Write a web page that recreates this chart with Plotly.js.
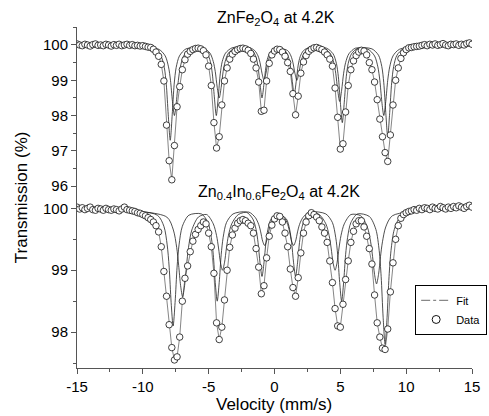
<!DOCTYPE html>
<html>
<head>
<meta charset="utf-8">
<script src="https://cdn.plot.ly/plotly-3.0.1.min.js"></script>
<style>html,body{margin:0;padding:0;background:#fff;}#chart{width:489px;height:416px;}</style>
</head>
<body>
<div id="chart"></div>
<script>
// Velocity channels (mm/s), shared by both spectra
const velocity = [-15.0,-14.8,-14.6,-14.4,-14.2,-14.0,-13.8,-13.6,-13.4,-13.2,
-13.0,-12.8,-12.6,-12.4,-12.2,-12.0,-11.8,-11.6,-11.4,-11.2,
-11.0,-10.8,-10.6,-10.4,-10.2,-10.0,-9.8,-9.6,-9.4,-9.2,
-9.0,-8.8,-8.6,-8.4,-8.2,-8.0,-7.8,-7.6,-7.4,-7.2,
-7.0,-6.8,-6.6,-6.4,-6.2,-6.0,-5.8,-5.6,-5.4,-5.2,
-5.0,-4.8,-4.6,-4.4,-4.2,-4.0,-3.8,-3.6,-3.4,-3.2,
-3.0,-2.8,-2.6,-2.4,-2.2,-2.0,-1.8,-1.6,-1.4,-1.2,
-1.0,-0.8,-0.6,-0.4,-0.2,0.0,0.2,0.4,0.6,0.8,
1.0,1.2,1.4,1.6,1.8,2.0,2.2,2.4,2.6,2.8,
3.0,3.2,3.4,3.6,3.8,4.0,4.2,4.4,4.6,4.8,
5.0,5.2,5.4,5.6,5.8,6.0,6.2,6.4,6.6,6.8,
7.0,7.2,7.4,7.6,7.8,8.0,8.2,8.4,8.6,8.8,
9.0,9.2,9.4,9.6,9.8,10.0,10.2,10.4,10.6,10.8,
11.0,11.2,11.4,11.6,11.8,12.0,12.2,12.4,12.6,12.8,
13.0,13.2,13.4,13.6,13.8,14.0,14.2,14.4,14.6,14.8,15.0];

// ZnFe2O4 at 4.2K : measured transmission (%)
const znFeData = [100.03,100.0,99.98,100.02,100.0,99.97,100.01,100.03,99.99,100.0,
99.98,100.02,100.0,99.97,100.01,99.99,100.02,99.98,100.0,100.02,
99.99,100.01,99.98,99.99,99.97,99.98,99.96,99.94,99.93,99.88,
99.8,99.68,99.45,98.98,97.73,96.72,96.18,97.15,98.25,98.82,
99.3,99.58,99.74,99.82,99.87,99.9,99.91,99.89,99.84,99.72,
99.4,98.85,97.8,97.08,97.4,98.3,98.98,99.35,99.6,99.74,
99.82,99.87,99.9,99.91,99.89,99.85,99.76,99.6,99.35,98.95,
98.12,98.15,98.98,99.48,99.72,99.83,99.88,99.87,99.8,99.68,
99.5,99.25,98.62,98.02,98.55,99.2,99.52,99.7,99.82,99.88,
99.92,99.93,99.9,99.87,99.8,99.72,99.6,99.4,98.78,97.95,
97.05,97.2,98.1,98.85,99.3,99.55,99.7,99.8,99.85,99.83,
99.72,99.5,99.3,98.95,98.45,97.9,97.4,96.95,96.7,97.45,
98.3,99.0,99.35,99.62,99.78,99.87,99.92,99.93,99.95,99.96,
99.97,99.99,100.01,99.98,100.02,100.0,100.03,99.99,100.01,100.04,
100.0,99.98,100.02,100.01,100.03,99.99,100.02,100.0,100.04,100.06,100.02];

// Zn0.4In0.6Fe2O4 at 4.2K : measured transmission (%)
const znInData = [100.02,99.99,100.01,99.98,100.0,100.02,99.98,99.97,100.0,99.99,
99.97,100.0,99.98,99.97,99.99,99.98,99.96,99.99,100.02,99.98,
99.97,99.96,99.95,99.93,99.92,99.9,99.88,99.85,99.82,99.78,
99.72,99.62,99.38,98.98,98.58,98.12,97.75,97.55,97.6,97.92,
98.5,98.87,99.07,99.3,99.47,99.58,99.66,99.72,99.78,99.75,
99.6,99.38,98.95,98.15,97.88,98.08,98.52,99.0,99.37,99.57,
99.68,99.76,99.8,99.82,99.8,99.76,99.72,99.6,99.35,99.05,
98.62,98.75,99.2,99.55,99.73,99.83,99.88,99.87,99.78,99.6,
99.38,99.02,98.72,98.58,98.88,99.28,99.6,99.78,99.88,99.93,
99.9,99.86,99.8,99.7,99.6,99.45,99.15,98.8,98.38,98.1,
98.08,98.45,98.85,99.15,99.45,99.63,99.75,99.8,99.8,99.7,
99.55,99.35,99.1,98.6,98.15,97.92,97.74,97.72,98.05,98.65,
99.12,99.5,99.72,99.84,99.9,99.93,99.95,99.96,99.98,99.97,
100.0,99.98,100.01,100.0,99.98,100.02,100.0,99.99,100.03,100.01,
99.99,100.02,100.0,100.03,100.01,100.04,100.02,100.0,100.03,100.05,100.02];

// Fit sub-spectra, ZnFe2O4
const znFeFitAVel = [-15,-12,-9.12,-8.62,-8.37,-8.22,-8.07,-7.92,-7.77,-7.62,-7.47,-7.22,-6.72,
-5.62,-5.12,-4.87,-4.72,-4.57,-4.42,-4.27,-4.12,-3.97,-3.72,-3.22,
-2.15,-1.65,-1.4,-1.25,-1.1,-0.95,-0.8,-0.65,-0.5,-0.25,0.28,
0.8,1.05,1.2,1.35,1.5,1.65,1.8,1.95,2.2,2.7,
3.95,4.45,4.7,4.85,5.0,5.15,5.3,5.45,5.6,5.85,6.35,
7.4,7.9,8.15,8.3,8.45,8.6,8.75,8.9,9.05,9.3,9.8,12,15];
const znFeFitA = [100,99.98,99.89,99.69,99.36,98.89,98.02,97.3,98.02,98.89,99.36,99.69,99.89,
99.92,99.77,99.53,99.18,98.53,98.0,98.53,99.18,99.53,99.77,99.92,
99.94,99.83,99.65,99.38,98.9,98.5,98.9,99.38,99.65,99.83,99.92,
99.84,99.67,99.43,98.97,98.6,98.97,99.43,99.67,99.84,99.94,
99.91,99.75,99.48,99.1,98.38,97.8,98.38,99.1,99.48,99.75,99.91,
99.89,99.71,99.39,98.93,98.09,97.4,98.09,98.93,99.39,99.71,99.89,99.98,100];
const znFeFitBVel = [-15,-12,-8.8,-8.3,-8.05,-7.9,-7.75,-7.6,-7.45,-7.3,-7.15,-6.9,-6.4,
-5.4,-4.9,-4.65,-4.5,-4.35,-4.2,-4.05,-3.9,-3.75,-3.5,-3.0,
-2.0,-1.5,-1.25,-1.1,-0.95,-0.8,-0.65,-0.5,-0.35,-0.1,0.45,
1.0,1.25,1.4,1.55,1.7,1.85,2.0,2.15,2.4,2.9,
3.75,4.25,4.5,4.65,4.8,4.95,5.1,5.25,5.4,5.65,6.15,
7.1,7.6,7.85,8.0,8.15,8.3,8.45,8.6,8.75,9.0,9.5,12,15];
const znFeFitB = [100,99.98,99.88,99.69,99.38,99.0,98.4,98.0,98.4,99.0,99.38,99.69,99.88,
99.91,99.77,99.53,99.25,98.8,98.5,98.8,99.25,99.53,99.77,99.91,
99.94,99.84,99.69,99.5,99.2,99.0,99.2,99.5,99.69,99.84,99.9,
99.84,99.69,99.5,99.2,99.0,99.2,99.5,99.69,99.84,99.94,
99.91,99.75,99.5,99.2,98.72,98.4,98.72,99.2,99.5,99.75,99.91,
99.88,99.69,99.38,99.0,98.4,98.0,98.4,99.0,99.38,99.69,99.88,99.98,100];

// Fit sub-spectra, Zn0.4In0.6Fe2O4
const znInFitAVel = [-15,-12,-8.9,-8.4,-8.15,-8.0,-7.85,-7.7,-7.55,-7.4,-7.25,-7.0,-6.5,
-5.55,-5.05,-4.8,-4.65,-4.5,-4.35,-4.2,-4.05,-3.9,-3.65,-3.15,
-2.15,-1.65,-1.4,-1.25,-1.1,-0.95,-0.8,-0.65,-0.5,-0.25,0.32,
0.9,1.15,1.3,1.45,1.6,1.75,1.9,2.05,2.3,2.8,
3.9,4.4,4.65,4.8,4.95,5.1,5.25,5.4,5.55,5.8,6.3,
7.2,7.7,7.95,8.1,8.25,8.4,8.55,8.7,8.85,9.1,9.6,12,15];
const znInFitA = [100,99.98,99.89,99.71,99.41,99.05,98.48,98.1,98.48,99.05,99.41,99.71,99.89,
99.91,99.77,99.53,99.25,98.8,98.5,98.8,99.25,99.53,99.77,99.91,
99.94,99.83,99.66,99.45,99.12,98.9,99.12,99.45,99.66,99.83,99.9,
99.83,99.66,99.45,99.12,98.9,99.12,99.45,99.66,99.83,99.94,
99.91,99.77,99.53,99.25,98.8,98.5,98.8,99.25,99.53,99.77,99.91,
99.87,99.66,99.32,98.9,98.24,97.8,98.24,98.9,99.32,99.66,99.87,99.98,100];
const znInFitBVel = [-15,-12,-8.18,-7.68,-7.43,-7.28,-7.13,-6.98,-6.83,-6.68,-6.53,-6.28,-5.78,
-5.15,-4.65,-4.4,-4.25,-4.1,-3.95,-3.8,-3.65,-3.5,-3.25,-2.75,
-1.95,-1.45,-1.2,-1.05,-0.9,-0.75,-0.6,-0.45,-0.3,-0.05,0.35,
0.75,1.0,1.15,1.3,1.45,1.6,1.75,1.9,2.15,2.65,
3.4,3.9,4.15,4.3,4.45,4.6,4.75,4.9,5.05,5.3,5.8,
6.55,7.05,7.3,7.45,7.6,7.75,7.9,8.05,8.2,8.45,8.95,12,15];
const znInFitB = [100,99.98,99.86,99.65,99.37,99.08,98.75,98.57,98.75,99.08,99.37,99.65,99.86,
99.9,99.75,99.56,99.36,99.12,99.0,99.12,99.36,99.56,99.75,99.9,
99.94,99.85,99.74,99.62,99.47,99.4,99.47,99.62,99.74,99.85,99.9,
99.85,99.74,99.62,99.47,99.4,99.47,99.62,99.74,99.85,99.94,
99.9,99.75,99.56,99.36,99.12,99.0,99.12,99.36,99.56,99.75,99.9,
99.88,99.7,99.46,99.22,98.93,98.78,98.93,99.22,99.46,99.7,99.88,99.98,100];

const topTicks = [96, 97, 98, 99, 100];
const bottomTicks = [98, 99, 100];
const xTicks = [-15, -10, -5, 0, 5, 10, 15];

const FONT = 'Liberation Sans, Arial, Helvetica, sans-serif';
const AXC = '#555';

function fitTrace(x, y, yaxis) {
  return {x: x, y: y, xaxis: 'x', yaxis: yaxis, type: 'scatter', mode: 'lines',
    line: {color: '#222', width: 0.8, shape: 'spline', smoothing: 0.8},
    showlegend: false, hoverinfo: 'skip'};
}
function dataTrace(y, yaxis) {
  return {x: velocity, y: y, xaxis: 'x', yaxis: yaxis, type: 'scatter', mode: 'lines+markers',
    line: {color: '#333', width: 0.6},
    marker: {symbol: 'circle', size: 6.5, color: '#fff', line: {color: '#111', width: 0.8}},
    showlegend: false};
}

const traces = [
  fitTrace(znFeFitAVel, znFeFitA, 'y2'),
  fitTrace(znFeFitBVel, znFeFitB, 'y2'),
  dataTrace(znFeData, 'y2'),
  fitTrace(znInFitAVel, znInFitA, 'y'),
  fitTrace(znInFitBVel, znInFitB, 'y'),
  dataTrace(znInData, 'y'),
  {x: [null], y: [null], xaxis: 'x', yaxis: 'y', type: 'scatter', mode: 'lines', name: 'Fit',
   line: {color: '#888', width: 1.2, dash: 'dashdot'}, showlegend: true},
  {x: [null], y: [null], xaxis: 'x', yaxis: 'y', type: 'scatter', mode: 'markers', name: 'Data',
   marker: {symbol: 'circle', size: 8, color: '#fff', line: {color: '#111', width: 1}}, showlegend: true}
];

const split = 0.5044;
const yCommon = {
  showline: true, linecolor: AXC, linewidth: 1, ticks: 'outside', ticklen: 5, tickcolor: AXC,
  showgrid: false, zeroline: false, anchor: 'x',
  tickfont: {family: FONT, size: 15, color: '#000'},
  minor: {dtick: 0.5, ticks: 'outside', ticklen: 3, tickcolor: AXC, showgrid: false}
};

const layout = {
  width: 489, height: 416,
  margin: {l: 77, r: 17, t: 27, b: 48, autoexpand: false},
  paper_bgcolor: '#fff', plot_bgcolor: '#fff',
  font: {family: FONT, color: '#000'},
  xaxis: {
    domain: [0, 1], range: [-15, 15], anchor: 'y',
    showline: true, linecolor: AXC, linewidth: 1, ticks: 'outside', ticklen: 5, tickcolor: AXC,
    tickvals: xTicks, ticktext: xTicks.map(String),
    tickfont: {family: FONT, size: 15, color: '#000'},
    minor: {dtick: 2.5, tick0: 0, ticks: 'outside', ticklen: 3, tickcolor: AXC, showgrid: false},
    showgrid: false, zeroline: false
  },
  yaxis: Object.assign({}, yCommon, {
    domain: [0, split], range: [97.42, 100.2],
    tickvals: bottomTicks, ticktext: bottomTicks.map(String)
  }),
  yaxis2: Object.assign({}, yCommon, {
    domain: [split, 1], range: [95.72, 100.51],
    tickvals: topTicks, ticktext: topTicks.map(String)
  }),
  showlegend: true,
  legend: {
    xref: 'container', yref: 'container',
    x: 0.849, y: 0.315, xanchor: 'left', yanchor: 'top',
    bgcolor: '#fff', bordercolor: '#000', borderwidth: 1,
    font: {family: FONT, size: 11, color: '#000'},
    itemwidth: 30, tracegroupgap: 0, traceorder: 'normal'
  },
  annotations: [
    {text: 'ZnFe<sub>2</sub>O<sub>4</sub> at 4.2K', xref: 'paper', yref: 'paper',
     x: 0.503, y: 1.026, xanchor: 'center', yanchor: 'middle', showarrow: false,
     font: {family: FONT, size: 16, color: '#000'}},
    {text: 'Zn<sub>0.4</sub>In<sub>0.6</sub>Fe<sub>2</sub>O<sub>4</sub> at 4.2K', xref: 'paper', yref: 'paper',
     x: 0.512, y: 0.516, xanchor: 'center', yanchor: 'middle', showarrow: false,
     font: {family: FONT, size: 16, color: '#000'}},
    {text: 'Transmission (%)', xref: 'paper', yref: 'paper', x: -0.14, y: 0.5,
     xanchor: 'center', yanchor: 'middle', textangle: -90, showarrow: false,
     font: {family: FONT, size: 17, color: '#000'}},
    {text: 'Velocity (mm/s)', xref: 'paper', yref: 'paper', x: 0.498, y: -0.1085,
     xanchor: 'center', yanchor: 'middle', showarrow: false,
     font: {family: FONT, size: 17, color: '#000'}}
  ]
};

Plotly.newPlot('chart', traces, layout, {staticPlot: true, displayModeBar: false});
</script>
</body>
</html>
